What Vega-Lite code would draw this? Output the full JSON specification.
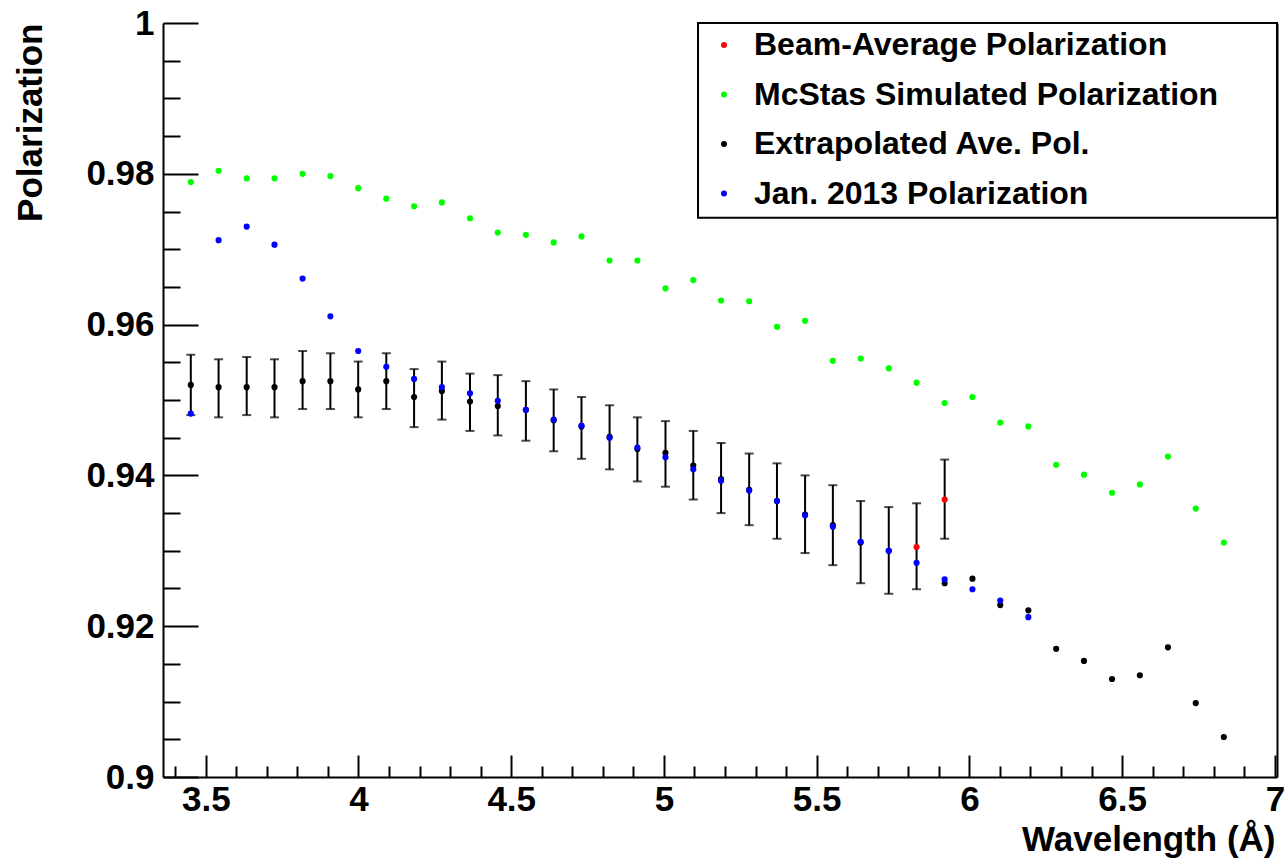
{
  "$schema": "https://vega.github.io/schema/vega-lite/v6.json",
  "width": 1114,
  "height": 754,
  "autosize": "none",
  "padding": {"left": 163, "top": 23, "right": 8, "bottom": 84},
  "background": "white",
  "config": {"view": {"stroke": null}, "font": "Liberation Sans", "axis": {"labelOverlap": false, "grid": false, "tickColor": "black", "tickWidth": 2, "domainColor": "black", "domainWidth": 2}},
  "datasets": {
    "pts": [
      {"s": "Extrapolated Ave. Pol.", "wl": 3.451, "pol": 0.9520, "lo": 0.9480, "hi": 0.9560},
      {"s": "Extrapolated Ave. Pol.", "wl": 3.542, "pol": 0.9517, "lo": 0.9477, "hi": 0.9554},
      {"s": "Extrapolated Ave. Pol.", "wl": 3.634, "pol": 0.9517, "lo": 0.9480, "hi": 0.9557},
      {"s": "Extrapolated Ave. Pol.", "wl": 3.725, "pol": 0.9517, "lo": 0.9477, "hi": 0.9554},
      {"s": "Extrapolated Ave. Pol.", "wl": 3.817, "pol": 0.9525, "lo": 0.9488, "hi": 0.9565},
      {"s": "Extrapolated Ave. Pol.", "wl": 3.908, "pol": 0.9525, "lo": 0.9488, "hi": 0.9562},
      {"s": "Extrapolated Ave. Pol.", "wl": 3.999, "pol": 0.9514, "lo": 0.9477, "hi": 0.9551},
      {"s": "Extrapolated Ave. Pol.", "wl": 4.091, "pol": 0.9525, "lo": 0.9488, "hi": 0.9562},
      {"s": "Extrapolated Ave. Pol.", "wl": 4.182, "pol": 0.9504, "lo": 0.9464, "hi": 0.9541},
      {"s": "Extrapolated Ave. Pol.", "wl": 4.273, "pol": 0.9512, "lo": 0.9474, "hi": 0.9551},
      {"s": "Extrapolated Ave. Pol.", "wl": 4.365, "pol": 0.9498, "lo": 0.9459, "hi": 0.9535},
      {"s": "Extrapolated Ave. Pol.", "wl": 4.456, "pol": 0.9492, "lo": 0.9453, "hi": 0.9533},
      {"s": "Extrapolated Ave. Pol.", "wl": 4.548, "pol": 0.9487, "lo": 0.9446, "hi": 0.9525},
      {"s": "Extrapolated Ave. Pol.", "wl": 4.639, "pol": 0.9473, "lo": 0.9432, "hi": 0.9514},
      {"s": "Extrapolated Ave. Pol.", "wl": 4.730, "pol": 0.9465, "lo": 0.9422, "hi": 0.9504},
      {"s": "Extrapolated Ave. Pol.", "wl": 4.822, "pol": 0.9451, "lo": 0.9408, "hi": 0.9493},
      {"s": "Extrapolated Ave. Pol.", "wl": 4.913, "pol": 0.9435, "lo": 0.9392, "hi": 0.9477},
      {"s": "Extrapolated Ave. Pol.", "wl": 5.005, "pol": 0.9430, "lo": 0.9385, "hi": 0.9472},
      {"s": "Extrapolated Ave. Pol.", "wl": 5.096, "pol": 0.9413, "lo": 0.9368, "hi": 0.9459},
      {"s": "Extrapolated Ave. Pol.", "wl": 5.187, "pol": 0.9395, "lo": 0.9350, "hi": 0.9443},
      {"s": "Extrapolated Ave. Pol.", "wl": 5.279, "pol": 0.9381, "lo": 0.9334, "hi": 0.9429},
      {"s": "Extrapolated Ave. Pol.", "wl": 5.370, "pol": 0.9366, "lo": 0.9316, "hi": 0.9416},
      {"s": "Extrapolated Ave. Pol.", "wl": 5.462, "pol": 0.9348, "lo": 0.9297, "hi": 0.9400},
      {"s": "Extrapolated Ave. Pol.", "wl": 5.553, "pol": 0.9334, "lo": 0.9281, "hi": 0.9387},
      {"s": "Extrapolated Ave. Pol.", "wl": 5.644, "pol": 0.9311, "lo": 0.9257, "hi": 0.9366},
      {"s": "Extrapolated Ave. Pol.", "wl": 5.736, "pol": 0.9300, "lo": 0.9243, "hi": 0.9358},
      {"s": "Extrapolated Ave. Pol.", "wl": 5.919, "pol": 0.9257, "lo": null, "hi": null},
      {"s": "Extrapolated Ave. Pol.", "wl": 6.010, "pol": 0.9263, "lo": null, "hi": null},
      {"s": "Extrapolated Ave. Pol.", "wl": 6.101, "pol": 0.9228, "lo": null, "hi": null},
      {"s": "Extrapolated Ave. Pol.", "wl": 6.193, "pol": 0.9221, "lo": null, "hi": null},
      {"s": "Extrapolated Ave. Pol.", "wl": 6.284, "pol": 0.9170, "lo": null, "hi": null},
      {"s": "Extrapolated Ave. Pol.", "wl": 6.375, "pol": 0.9154, "lo": null, "hi": null},
      {"s": "Extrapolated Ave. Pol.", "wl": 6.467, "pol": 0.9130, "lo": null, "hi": null},
      {"s": "Extrapolated Ave. Pol.", "wl": 6.558, "pol": 0.9135, "lo": null, "hi": null},
      {"s": "Extrapolated Ave. Pol.", "wl": 6.650, "pol": 0.9172, "lo": null, "hi": null},
      {"s": "Extrapolated Ave. Pol.", "wl": 6.741, "pol": 0.9098, "lo": null, "hi": null},
      {"s": "Extrapolated Ave. Pol.", "wl": 6.833, "pol": 0.9053, "lo": null, "hi": null},
      {"s": "Beam-Average Polarization", "wl": 5.827, "pol": 0.9305, "lo": 0.9249, "hi": 0.9363},
      {"s": "Beam-Average Polarization", "wl": 5.919, "pol": 0.9368, "lo": 0.9316, "hi": 0.9421},
      {"s": "McStas Simulated Polarization", "wl": 3.451, "pol": 0.9789, "lo": null, "hi": null},
      {"s": "McStas Simulated Polarization", "wl": 3.542, "pol": 0.9804, "lo": null, "hi": null},
      {"s": "McStas Simulated Polarization", "wl": 3.634, "pol": 0.9794, "lo": null, "hi": null},
      {"s": "McStas Simulated Polarization", "wl": 3.725, "pol": 0.9794, "lo": null, "hi": null},
      {"s": "McStas Simulated Polarization", "wl": 3.817, "pol": 0.9800, "lo": null, "hi": null},
      {"s": "McStas Simulated Polarization", "wl": 3.908, "pol": 0.9797, "lo": null, "hi": null},
      {"s": "McStas Simulated Polarization", "wl": 3.999, "pol": 0.9781, "lo": null, "hi": null},
      {"s": "McStas Simulated Polarization", "wl": 4.091, "pol": 0.9767, "lo": null, "hi": null},
      {"s": "McStas Simulated Polarization", "wl": 4.182, "pol": 0.9757, "lo": null, "hi": null},
      {"s": "McStas Simulated Polarization", "wl": 4.273, "pol": 0.9762, "lo": null, "hi": null},
      {"s": "McStas Simulated Polarization", "wl": 4.365, "pol": 0.9741, "lo": null, "hi": null},
      {"s": "McStas Simulated Polarization", "wl": 4.456, "pol": 0.9722, "lo": null, "hi": null},
      {"s": "McStas Simulated Polarization", "wl": 4.548, "pol": 0.9719, "lo": null, "hi": null},
      {"s": "McStas Simulated Polarization", "wl": 4.639, "pol": 0.9709, "lo": null, "hi": null},
      {"s": "McStas Simulated Polarization", "wl": 4.730, "pol": 0.9717, "lo": null, "hi": null},
      {"s": "McStas Simulated Polarization", "wl": 4.822, "pol": 0.9685, "lo": null, "hi": null},
      {"s": "McStas Simulated Polarization", "wl": 4.913, "pol": 0.9685, "lo": null, "hi": null},
      {"s": "McStas Simulated Polarization", "wl": 5.005, "pol": 0.9648, "lo": null, "hi": null},
      {"s": "McStas Simulated Polarization", "wl": 5.096, "pol": 0.9659, "lo": null, "hi": null},
      {"s": "McStas Simulated Polarization", "wl": 5.187, "pol": 0.9632, "lo": null, "hi": null},
      {"s": "McStas Simulated Polarization", "wl": 5.279, "pol": 0.9631, "lo": null, "hi": null},
      {"s": "McStas Simulated Polarization", "wl": 5.370, "pol": 0.9597, "lo": null, "hi": null},
      {"s": "McStas Simulated Polarization", "wl": 5.462, "pol": 0.9605, "lo": null, "hi": null},
      {"s": "McStas Simulated Polarization", "wl": 5.553, "pol": 0.9552, "lo": null, "hi": null},
      {"s": "McStas Simulated Polarization", "wl": 5.644, "pol": 0.9555, "lo": null, "hi": null},
      {"s": "McStas Simulated Polarization", "wl": 5.736, "pol": 0.9542, "lo": null, "hi": null},
      {"s": "McStas Simulated Polarization", "wl": 5.827, "pol": 0.9523, "lo": null, "hi": null},
      {"s": "McStas Simulated Polarization", "wl": 5.919, "pol": 0.9496, "lo": null, "hi": null},
      {"s": "McStas Simulated Polarization", "wl": 6.010, "pol": 0.9504, "lo": null, "hi": null},
      {"s": "McStas Simulated Polarization", "wl": 6.101, "pol": 0.9470, "lo": null, "hi": null},
      {"s": "McStas Simulated Polarization", "wl": 6.193, "pol": 0.9465, "lo": null, "hi": null},
      {"s": "McStas Simulated Polarization", "wl": 6.284, "pol": 0.9414, "lo": null, "hi": null},
      {"s": "McStas Simulated Polarization", "wl": 6.375, "pol": 0.9401, "lo": null, "hi": null},
      {"s": "McStas Simulated Polarization", "wl": 6.467, "pol": 0.9377, "lo": null, "hi": null},
      {"s": "McStas Simulated Polarization", "wl": 6.558, "pol": 0.9388, "lo": null, "hi": null},
      {"s": "McStas Simulated Polarization", "wl": 6.650, "pol": 0.9425, "lo": null, "hi": null},
      {"s": "McStas Simulated Polarization", "wl": 6.741, "pol": 0.9356, "lo": null, "hi": null},
      {"s": "McStas Simulated Polarization", "wl": 6.833, "pol": 0.9311, "lo": null, "hi": null},
      {"s": "Jan. 2013 Polarization", "wl": 3.451, "pol": 0.9482, "lo": null, "hi": null},
      {"s": "Jan. 2013 Polarization", "wl": 3.542, "pol": 0.9712, "lo": null, "hi": null},
      {"s": "Jan. 2013 Polarization", "wl": 3.634, "pol": 0.9730, "lo": null, "hi": null},
      {"s": "Jan. 2013 Polarization", "wl": 3.725, "pol": 0.9706, "lo": null, "hi": null},
      {"s": "Jan. 2013 Polarization", "wl": 3.817, "pol": 0.9661, "lo": null, "hi": null},
      {"s": "Jan. 2013 Polarization", "wl": 3.908, "pol": 0.9611, "lo": null, "hi": null},
      {"s": "Jan. 2013 Polarization", "wl": 3.999, "pol": 0.9565, "lo": null, "hi": null},
      {"s": "Jan. 2013 Polarization", "wl": 4.091, "pol": 0.9544, "lo": null, "hi": null},
      {"s": "Jan. 2013 Polarization", "wl": 4.182, "pol": 0.9528, "lo": null, "hi": null},
      {"s": "Jan. 2013 Polarization", "wl": 4.273, "pol": 0.9517, "lo": null, "hi": null},
      {"s": "Jan. 2013 Polarization", "wl": 4.365, "pol": 0.9509, "lo": null, "hi": null},
      {"s": "Jan. 2013 Polarization", "wl": 4.456, "pol": 0.9499, "lo": null, "hi": null},
      {"s": "Jan. 2013 Polarization", "wl": 4.548, "pol": 0.9487, "lo": null, "hi": null},
      {"s": "Jan. 2013 Polarization", "wl": 4.639, "pol": 0.9474, "lo": null, "hi": null},
      {"s": "Jan. 2013 Polarization", "wl": 4.730, "pol": 0.9466, "lo": null, "hi": null},
      {"s": "Jan. 2013 Polarization", "wl": 4.822, "pol": 0.9450, "lo": null, "hi": null},
      {"s": "Jan. 2013 Polarization", "wl": 4.913, "pol": 0.9437, "lo": null, "hi": null},
      {"s": "Jan. 2013 Polarization", "wl": 5.005, "pol": 0.9424, "lo": null, "hi": null},
      {"s": "Jan. 2013 Polarization", "wl": 5.096, "pol": 0.9408, "lo": null, "hi": null},
      {"s": "Jan. 2013 Polarization", "wl": 5.187, "pol": 0.9393, "lo": null, "hi": null},
      {"s": "Jan. 2013 Polarization", "wl": 5.279, "pol": 0.9380, "lo": null, "hi": null},
      {"s": "Jan. 2013 Polarization", "wl": 5.370, "pol": 0.9366, "lo": null, "hi": null},
      {"s": "Jan. 2013 Polarization", "wl": 5.462, "pol": 0.9347, "lo": null, "hi": null},
      {"s": "Jan. 2013 Polarization", "wl": 5.553, "pol": 0.9332, "lo": null, "hi": null},
      {"s": "Jan. 2013 Polarization", "wl": 5.644, "pol": 0.9312, "lo": null, "hi": null},
      {"s": "Jan. 2013 Polarization", "wl": 5.736, "pol": 0.9300, "lo": null, "hi": null},
      {"s": "Jan. 2013 Polarization", "wl": 5.827, "pol": 0.9284, "lo": null, "hi": null},
      {"s": "Jan. 2013 Polarization", "wl": 5.919, "pol": 0.9262, "lo": null, "hi": null},
      {"s": "Jan. 2013 Polarization", "wl": 6.010, "pol": 0.9249, "lo": null, "hi": null},
      {"s": "Jan. 2013 Polarization", "wl": 6.101, "pol": 0.9234, "lo": null, "hi": null},
      {"s": "Jan. 2013 Polarization", "wl": 6.193, "pol": 0.9212, "lo": null, "hi": null}
    ]
  },
  "resolve": {"axis": {"x": "independent", "y": "independent"}},
  "layer": [
    {
      "data": {"values": [{"box": "legend"}]},
      "mark": {"type": "rect", "fill": "white", "stroke": "black", "strokeWidth": 2},
      "encoding": {
        "x": {
          "datum": 5.1115, "type": "quantitative",
          "scale": {"domain": [3.36, 7.007], "nice": false, "zero": false},
          "axis": {
            "orient": "bottom",
            "values": [3.5, 4, 4.5, 5, 5.5, 6, 6.5, 7],
            "format": ".1~f",
            "tickSize": -22,
            "labelFont": "Liberation Sans", "labelFontSize": 35, "labelFontWeight": "bold", "labelColor": "black",
            "labelPadding": 27, "labelOverlap": false, "labelFlush": false,
            "title": "Wavelength (Å)",
            "titleFont": "Liberation Sans", "titleFontSize": 35, "titleFontWeight": "bold", "titleColor": "black",
            "titleX": 1112, "titleY": 62, "titleAlign": "right", "titleBaseline": "middle", "titleAnchor": null
          }
        },
        "x2": {"datum": 7.007},
        "y": {
          "datum": 1.0, "type": "quantitative",
          "scale": {"domain": [0.9, 1.0], "nice": false, "zero": false},
          "axis": {
            "orient": "left",
            "values": [0.9, 0.92, 0.94, 0.96, 0.98, 1.0],
            "format": ".2~f",
            "tickSize": -35,
            "labelFont": "Liberation Sans", "labelFontSize": 35, "labelFontWeight": "bold", "labelColor": "black",
            "labelPadding": 44, "labelOverlap": false, "labelFlush": false,
            "title": "Polarization",
            "titleFont": "Liberation Sans", "titleFontSize": 35, "titleFontWeight": "bold", "titleColor": "black",
            "titleX": -133, "titleY": 0, "titleAngle": -90, "titleAlign": "right", "titleBaseline": "middle", "titleAnchor": null
          }
        },
        "y2": {"datum": 0.97416}
      }
    },
    {
      "data": {"name": "pts"},
      "transform": [{"filter": "datum.lo != null"}],
      "mark": {"type": "rule", "color": "black", "strokeWidth": 2},
      "encoding": {
        "x": {"field": "wl", "type": "quantitative", "title": "Wavelength (Å)",
          "axis": {"orient": "bottom", "values": [3.4, 3.6, 3.7, 3.8, 3.9, 4.1, 4.2, 4.3, 4.4, 4.6, 4.7, 4.8, 4.9, 5.1, 5.2, 5.3, 5.4, 5.6, 5.7, 5.8, 5.9, 6.1, 6.2, 6.3, 6.4, 6.6, 6.7, 6.8, 6.9],
            "tickSize": -11, "labels": false, "domain": false, "title": null}},
        "y": {"field": "lo", "type": "quantitative", "title": "Polarization",
          "axis": {"orient": "left", "values": [0.905, 0.91, 0.915, 0.925, 0.93, 0.935, 0.945, 0.95, 0.955, 0.965, 0.97, 0.975, 0.985, 0.99, 0.995],
            "tickSize": -17, "labels": false, "domain": false, "title": null}},
        "y2": {"field": "hi"}
      }
    },
    {
      "data": {"name": "pts"},
      "transform": [{"filter": "datum.lo != null"}],
      "mark": {"type": "tick", "orient": "horizontal", "color": "black", "size": 9, "thickness": 2},
      "encoding": {
        "x": {"field": "wl", "type": "quantitative", "title": "Wavelength (Å)", "axis": null},
        "y": {"field": "lo", "type": "quantitative", "title": "Polarization", "axis": null}
      }
    },
    {
      "data": {"name": "pts"},
      "transform": [{"filter": "datum.hi != null"}],
      "mark": {"type": "tick", "orient": "horizontal", "color": "black", "size": 9, "thickness": 2},
      "encoding": {
        "x": {"field": "wl", "type": "quantitative", "title": "Wavelength (Å)", "axis": null},
        "y": {"field": "hi", "type": "quantitative", "title": "Polarization",
          "axis": {"orient": "right", "labels": false, "ticks": false, "domain": true, "title": null}}
      }
    },
    {
      "data": {"name": "pts"},
      "mark": {"type": "point", "filled": true, "size": 38, "opacity": 1, "shape": "circle"},
      "encoding": {
        "x": {"field": "wl", "type": "quantitative", "title": "Wavelength (Å)", "axis": null},
        "y": {"field": "pol", "type": "quantitative", "title": "Polarization", "axis": null},
        "color": {
          "field": "s", "type": "nominal",
          "scale": {
            "domain": ["Beam-Average Polarization", "McStas Simulated Polarization", "Extrapolated Ave. Pol.", "Jan. 2013 Polarization"],
            "range": ["#ff0000", "#00ff00", "#000000", "#0000ff"]
          },
          "legend": {
            "orient": "none", "legendX": 545, "legendY": 6,
            "title": null, "padding": 0,
            "symbolType": "circle", "symbolSize": 36, "symbolStrokeWidth": 0,
            "labelFont": "Liberation Sans", "labelFontSize": 32, "labelFontWeight": "bold", "labelColor": "black",
            "labelOffset": 14, "rowPadding": 17.5, "labelLimit": 600
          }
        }
      }
    }
  ]
}
